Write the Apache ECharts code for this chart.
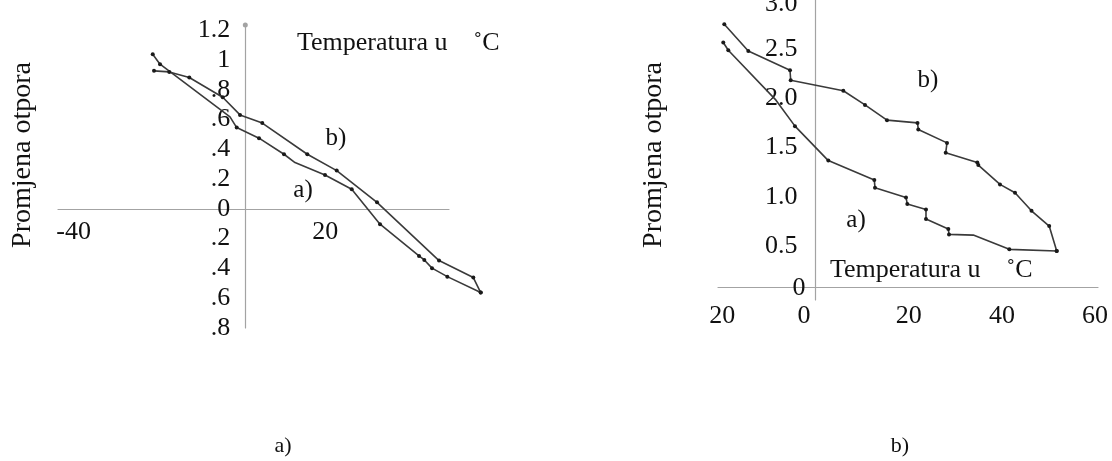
<!DOCTYPE html>
<html><head><meta charset="utf-8">
<script src="https://cdn.jsdelivr.net/npm/echarts@6/dist/echarts.min.js"></script>
<style>html,body{margin:0;padding:0;background:#fff}#c{width:1112px;height:461px}</style>
</head><body><div id="c"></div>
<script>
// ---- left panel a) ----
const leftATemp = [-22.08,-20.34,-3.65,-2.05,3.27,9.23,11.85,19.01,25.38,32.13,41.43,42.69,44.53,48.18,56.14];
const leftAVal  = [1.039,0.972,0.618,0.546,0.475,0.367,0.311,0.228,0.132,-0.103,-0.316,-0.343,-0.398,-0.455,-0.562];
const leftBTemp = [-21.77,-18.13,-13.36,-5.39,-1.26,4.05,14.79,21.80,31.41,46.20,54.38,56.14];
const leftBVal  = [0.927,0.920,0.882,0.750,0.631,0.576,0.367,0.257,0.044,-0.347,-0.461,-0.562];
const leftXTicks = [-40, 20];
const leftXTickLabels = ['-40', '20'];
const leftYTicks = [-0.8,-0.6,-0.4,-0.2,0,0.2,0.4,0.6,0.8,1,1.2];
const leftYTickLabels = ['.8','.6','.4','.2','0','.2','.4','.6','.8','1','1.2'];
// ---- right panel b) ----
const rightATemp = [-19.79,-18.71,-8.48,-4.40,2.75,12.62,12.77,19.42,19.70,23.71,23.71,28.50,28.65,33.86,41.59,51.76];
const rightAVal  = [2.568,2.489,1.982,1.718,1.368,1.170,1.093,0.994,0.926,0.872,0.774,0.672,0.618,0.611,0.466,0.449];
const rightBTemp = [-19.57,-14.42,-5.47,-5.32,5.97,10.62,15.34,21.89,22.06,28.22,27.94,34.72,34.94,39.59,42.81,46.35,50.15,51.76];
const rightBVal  = [2.753,2.482,2.286,2.185,2.078,1.934,1.779,1.751,1.684,1.548,1.447,1.349,1.322,1.126,1.041,0.858,0.703,0.449];
const rightXTicks = [-20, 0, 20, 40, 60];
const rightXTickLabels = ['20', '0', '20', '40', '60'];
const rightYTicks = [0, 0.5, 1.0, 1.5, 2.0, 2.5, 3.0];
const rightYTickLabels = ['0', '0.5', '1.0', '1.5', '2.0', '2.5', '3.0'];
// vertices drawn without a marker
const leftANoDot = [2, 6];
const rightANoDot = [2, 13];

const FONT = '"Liberation Serif", "Times New Roman", serif';
const TXT = '#111';
const AXIS = '#a3a3a3';
const LINE = '#3a3a3a';

// layout (pixels)
const L = { left: 58, top: 25, height: 303, axisW: 391, dataMax: 56.6, xMin: -44.67, xAxisMax: 48.58, yMin: -0.8, yMax: 1.235 };
const pxPerUnitL = L.axisW / (L.xAxisMax - L.xMin);
const L_dataW = (L.dataMax - L.xMin) * pxPerUnitL;
const L_y0px = L.top + L.height * (L.yMax / (L.yMax - L.yMin));
const L_x0px = L.left + (-L.xMin) * pxPerUnitL;

const R = { left: 718, top: 0, width: 380, height: 300, xMin: -20.92, xMax: 60.62, yMin: -0.0487, yMax: 3.0, xLinePx: 287 };
const R_x0px = R.left + (-R.xMin) / (R.xMax - R.xMin) * R.width;

function pairs(xs, ys) { return xs.map((x, i) => [x, ys[i]]); }
function lookup(ticks, labels) {
  return v => {
    let best = 0;
    ticks.forEach((t, i) => { if (Math.abs(t - v) < Math.abs(ticks[best] - v)) best = i; });
    return labels[best];
  };
}
function lineSeries(xi, xs, ys, noDot) {
  return {
    type: 'line', xAxisIndex: xi, yAxisIndex: xi, data: pairs(xs, ys),
    clip: false, symbol: 'circle',
    symbolSize: (v, p) => noDot.includes(p.dataIndex) ? 0 : 4,
    itemStyle: { color: '#1a1a1a' },
    lineStyle: { color: LINE, width: 1.6 },
    silent: true
  };
}
const lx = lookup(leftXTicks, leftXTickLabels);
const ly = lookup(leftYTicks, leftYTickLabels);
const rx = lookup(rightXTicks, rightXTickLabels);
const ry = lookup(rightYTicks, rightYTickLabels);

function txt(x, y, text, size, extra, align) {
  return Object.assign({
    type: 'text', x: x, y: y, silent: true,
    style: { text: text, fontFamily: FONT, fontSize: size, fill: TXT, align: align || 'center', verticalAlign: 'middle' }
  }, extra || {});
}
const noTick = { show: false };
const noSplit = { show: false };

const chart = echarts.init(document.getElementById('c'));
chart.setOption({
  animation: false,
  backgroundColor: '#fff',
  grid: [
    { left: L.left, top: L.top, width: L_dataW, height: L.height, outerBoundsMode: 'none', containLabel: false },
    { left: R.left, top: R.top, width: R.width, height: R.height, outerBoundsMode: 'none', containLabel: false },
    { left: L.left, top: L.top, width: L.axisW, height: L.height, outerBoundsMode: 'none', containLabel: false }
  ],
  xAxis: [
    { gridIndex: 0, type: 'value', min: L.xMin, max: L.dataMax, show: false },
    {
      gridIndex: 1, type: 'value', min: R.xMin, max: R.xMax, position: 'bottom',
      offset: -(R.top + R.height - R.xLinePx),
      axisLine: { onZero: false, lineStyle: { color: AXIS, width: 1.2 } },
      axisTick: noTick, splitLine: noSplit,
      axisLabel: {
        customValues: rightXTicks, margin: 16,
        formatter: v => (v === 0 ? '{z|' : '{n|') + rx(v) + '}',
        rich: {
          n: { fontFamily: FONT, fontSize: 26, color: TXT },
          z: { fontFamily: FONT, fontSize: 26, color: TXT, padding: [0, 23, 0, 0] }
        },
        fontFamily: FONT, fontSize: 26, color: TXT
      }
    },
    {
      gridIndex: 2, type: 'value', min: L.xMin, max: L.xAxisMax, position: 'bottom',
      offset: -(L.top + L.height - L_y0px),
      axisLine: { onZero: false, lineStyle: { color: AXIS, width: 1.2 } },
      axisTick: noTick, splitLine: noSplit,
      axisLabel: {
        customValues: leftXTicks, formatter: v => lx(v), margin: 10,
        padding: [0, 8, 0, 0],
        fontFamily: FONT, fontSize: 26, color: TXT
      }
    }
  ],
  yAxis: [
    {
      gridIndex: 0, type: 'value', min: L.yMin, max: L.yMax, position: 'left',
      offset: -(L_x0px - L.left),
      axisLine: { onZero: false, lineStyle: { color: AXIS, width: 1.2 }, symbol: ['none', 'circle'], symbolSize: [5, 5] },
      axisTick: noTick, splitLine: noSplit,
      axisLabel: {
        customValues: leftYTicks, formatter: v => ly(v), margin: 15,
        fontFamily: FONT, fontSize: 26, color: TXT
      }
    },
    {
      gridIndex: 1, type: 'value', min: R.yMin, max: R.yMax, position: 'left',
      offset: -(R_x0px - R.left),
      axisLine: { onZero: false, lineStyle: { color: AXIS, width: 1.2 } },
      axisTick: noTick, splitLine: noSplit,
      axisLabel: {
        customValues: rightYTicks, margin: 10, showMaxLabel: true,
        formatter: v => (Math.abs(v) < 1e-9 ? '{z|' : (Math.abs(v - 3) < 1e-9 ? '{t|' : '{n|')) + ry(v) + '}',
        rich: {
          n: { fontFamily: FONT, fontSize: 26, color: TXT, padding: [0, 8, 0, 0] },
          t: { fontFamily: FONT, fontSize: 26, color: TXT, padding: [8, 8, 0, 0] },
          z: { fontFamily: FONT, fontSize: 26, color: TXT, padding: [0, 0, 14, 0] }
        },
        fontFamily: FONT, fontSize: 26, color: TXT
      }
    },
    { gridIndex: 2, type: 'value', min: L.yMin, max: L.yMax, show: false }
  ],
  series: [
    lineSeries(0, leftATemp, leftAVal, leftANoDot),
    lineSeries(0, leftBTemp, leftBVal, []),
    lineSeries(1, rightATemp, rightAVal, rightANoDot),
    lineSeries(1, rightBTemp, rightBVal, [])
  ],
  graphic: [
    txt(297, 43, 'Temperatura u    \u02DAC', 26, null, 'left'),
    txt(830, 270, 'Temperatura u    \u02DAC', 26, null, 'left'),
    txt(23, 155, 'Promjena otpora', 28, { rotation: Math.PI / 2 }),
    txt(654, 155, 'Promjena otpora', 28, { rotation: Math.PI / 2 }),
    txt(336, 138, 'b)', 25),
    txt(303, 190, 'a)', 25),
    txt(928, 80, 'b)', 25),
    txt(856, 220, 'a)', 25),
    txt(283, 446, 'a)', 22),
    txt(900, 446, 'b)', 22)
  ]
});
</script>
</body></html>
